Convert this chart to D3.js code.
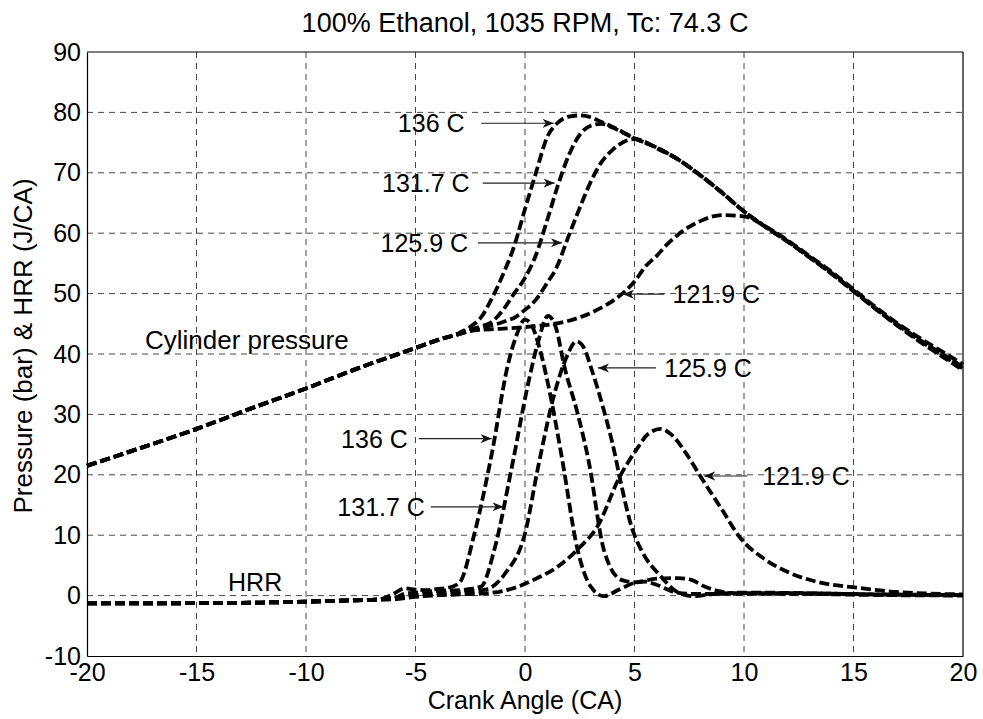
<!DOCTYPE html>
<html>
<head>
<meta charset="utf-8">
<script src="https://cdn.jsdelivr.net/npm/d3@7"></script>
<style>
  body { margin: 0; background: #fff; }
  svg text { font-family: "Liberation Sans", Arial, sans-serif; fill: #000; }
</style>
</head>
<body>
<div id="chart"></div>
<script>
// cylinder pressure (bar) vs crank angle, one pair of arrays per intake temperature
const crankP136 = [-20, -17.5, -15, -12.5, -10, -7.5, -5, -4, -3, -2.5, -2, -1.5, -1, -0.5, 0, 0.5, 1, 1.5, 2, 2.5, 3, 3.5, 4, 4.5, 5, 6, 7, 8, 9, 10, 11, 12, 13, 14, 15, 16, 17, 18, 19, 20];
const pres136 = [21.5, 24.5, 27.6, 31, 34.3, 37.8, 41, 42.3, 43.5, 44.5, 46.1, 49.3, 53.2, 57.8, 64, 70, 75.8, 78.3, 79.3, 79.5, 79.2, 78.4, 77.6, 76.7, 75.7, 74.2, 72.2, 69.6, 66.7, 63.6, 61, 58.6, 56, 53.3, 50.4, 47.5, 44.7, 42.1, 39.7, 37.3];

const crankP131 = [-20, -17.5, -15, -12.5, -10, -7.5, -5, -4, -3, -2.5, -2, -1.6, -1, -0.5, 0, 0.5, 1, 1.5, 2, 2.5, 3, 3.5, 4, 4.5, 5, 6, 7, 8, 9, 10, 11, 12, 13, 14, 15, 16, 17, 18, 19, 20];
const pres131 = [21.5, 24.5, 27.6, 31, 34.3, 37.8, 41, 42.3, 43.4, 44, 44.6, 45.1, 47.3, 50, 52.6, 56.4, 62, 67.9, 72.9, 76.3, 77.8, 78.1, 77.5, 76.6, 75.7, 74.2, 72.2, 69.6, 66.7, 63.6, 61, 58.6, 56, 53.3, 50.4, 47.5, 44.8, 42.3, 39.9, 37.6];

const crankP125 = [-20, -17.5, -15, -12.5, -10, -7.5, -5, -4, -3, -2, -1, -0.4, 0, 0.5, 1, 1.4, 2, 2.6, 3, 3.5, 4, 4.5, 5, 5.5, 6, 7, 8, 9, 10, 11, 12, 13, 14, 15, 16, 17, 18, 19, 20];
const pres125 = [21.5, 24.5, 27.6, 31, 34.3, 37.8, 41, 42.3, 43.3, 44.3, 45.3, 46.2, 47.3, 49, 51.7, 54, 59.6, 65.1, 68.5, 71.8, 73.8, 75.1, 75.6, 75.1, 74.1, 72.2, 69.6, 66.7, 63.6, 61, 58.6, 56, 53.4, 50.5, 47.6, 44.9, 42.4, 40.1, 37.9];

const crankP121 = [-20, -17.5, -15, -12.5, -10, -7.5, -5, -4, -3, -2.6, -1, 0.4, 1.9, 3.4, 4.2, 5, 5.5, 6, 6.5, 7, 8, 9, 10, 11, 12, 13, 14, 15, 16, 17, 18, 19, 20];
const pres121 = [21.5, 24.5, 27.6, 31, 34.3, 37.8, 41, 42.3, 43.3, 43.8, 44.2, 44.6, 45.4, 47.5, 49.3, 52, 54.5, 56.2, 58.2, 59.8, 62, 63, 62.8, 61.1, 58.8, 56.2, 53.6, 50.7, 47.8, 45.1, 42.7, 40.5, 38.3];

// heat release rate (J/CA) vs crank angle
const crankH136 = [-20, -15, -12, -10, -8, -7, -6.5, -6, -5.5, -5, -4.5, -4, -3.5, -3, -2.3, -1.5, -0.8, -0.4, 0, 0.3, 0.6, 1.2, 1.7, 2.4, 3, 3.6, 4.3, 5, 5.5, 6, 6.8, 7.5, 9, 12, 16, 20];
const hrr136 = [-1.3, -1.25, -1.15, -1.0, -0.8, -0.7, -0.5, 0.3, 1.2, 1.0, 0.9, 1.1, 1.3, 2.1, 10.4, 23.8, 37.9, 43, 45.7, 44.8, 41.8, 32.4, 22.5, 7.6, 1.5, -0.1, 1.0, 2.1, 2.3, 1.8, 0.6, 0.3, 0.3, 0.3, 0.1, 0];

const crankH131 = [-20, -15, -12, -10, -8, -7, -6, -5.5, -5, -4, -3, -2.5, -2, -1.4, -0.6, 0.15, 0.6, 1.05, 1.4, 1.8, 2.4, 2.9, 3.6, 4.4, 5, 6, 7, 7.6, 8.2, 8.8, 9.5, 12, 16, 20];
const hrr131 = [-1.3, -1.25, -1.15, -1.0, -0.8, -0.7, -0.4, 0.3, 0.5, 0.8, 0.9, 1.1, 1.5, 7.6, 21.3, 35.2, 42, 46.3, 44.5, 37.9, 30.2, 22.4, 7.6, 2.6, 2.2, 2.8, 2.9, 2.6, 1.5, 0.8, 0.4, 0.4, 0.2, 0.1];

const crankH125 = [-20, -15, -12, -10, -8, -7, -6, -5, -4, -3, -1.8, -0.9, 0, 0.6, 1.35, 1.9, 2.35, 2.7, 3, 3.6, 4.1, 4.3, 4.9, 5.3, 6.2, 7, 7.7, 8.5, 10, 13, 16, 20];
const hrr125 = [-1.3, -1.25, -1.15, -1.0, -0.8, -0.7, -0.5, 0, 0.4, 0.6, 1.0, 3.7, 10.3, 21.3, 33.5, 39.5, 42.1, 41, 37.9, 30.7, 23.5, 20, 11, 7.6, 3.2, 0.5, -0.1, 0.2, 0.5, 0.4, 0.2, 0.1];

const crankH121 = [-20, -15, -12, -10, -8, -7, -6, -5, -3, -1.7, -0.3, 0.5, 1.5, 2.5, 3.3, 4.3, 5.15, 5.6, 6.2, 6.7, 7.4, 8, 9, 9.8, 11, 12, 13.3, 15.2, 17, 20];
const hrr121 = [-1.3, -1.25, -1.15, -1.0, -0.8, -0.7, -0.6, -0.2, 0.2, 0.4, 1.5, 2.8, 4.8, 8, 11.4, 19.5, 24.5, 26.7, 27.6, 26.6, 23.3, 19.8, 14.2, 9.7, 5.9, 3.9, 2.3, 1.3, 0.6, 0.2];

// tick values
const xTicks = [-20, -15, -10, -5, 0, 5, 10, 15, 20];
const yTicks = [-10, 0, 10, 20, 30, 40, 50, 60, 70, 80, 90];

// annotations: label text, text x/y, arrow from/to (data units)
const labelText = ['136 C', '131.7 C', '125.9 C', '121.9 C', '125.9 C', '136 C', '131.7 C', '121.9 C'];
const labelX = [-2.76, -2.53, -2.6, 6.74, 6.36, -5.35, -4.57, 10.83];
const labelY = [78.2, 68.3, 58.4, 49.9, 37.7, 26, 14.7, 19.8];
const arrowFrom = [-2.0, -1.93, -2.15, 6.36, 5.98, -4.85, -4.3, 10.15];
const arrowTo = [1.31, 1.35, 1.69, 4.47, 3.33, -1.52, -0.98, 8.18];

const series = [
  [crankP136, pres136], [crankP131, pres131], [crankP125, pres125], [crankP121, pres121],
  [crankH136, hrr136], [crankH131, hrr131], [crankH125, hrr125], [crankH121, hrr121]
].map(([xs, ys]) => xs.map((x, i) => ({ x: x, y: ys[i] })));

let margin = { top: 52, right: 20, bottom: 63, left: 87 },
  width = 983 - margin.left - margin.right,
  height = 719 - margin.top - margin.bottom;

let svg = d3.select('#chart')
  .append('svg')
  .attr('width', 983)
  .attr('height', 719)
  .append('g')
  .attr('transform', `translate(${margin.left}, ${margin.top})`);

let x = d3.scaleLinear().domain([-20, 20]).range([0, width]);
let y = d3.scaleLinear().domain([-10, 90]).range([height, 0]);

// grid
svg.append('g')
  .selectAll('line')
  .data(xTicks.slice(1, -1))
  .enter()
  .append('line')
  .attr('x1', d => x(d)).attr('x2', d => x(d))
  .attr('y1', 0).attr('y2', height)
  .attr('stroke', '#333').attr('stroke-width', 0.9)
  .attr('stroke-dasharray', '6,5');

svg.append('g')
  .selectAll('line')
  .data(yTicks.slice(1, -1))
  .enter()
  .append('line')
  .attr('y1', d => y(d)).attr('y2', d => y(d))
  .attr('x1', 0).attr('x2', width)
  .attr('stroke', '#333').attr('stroke-width', 0.9)
  .attr('stroke-dasharray', '6,5');

// axes (plain hyphen for negatives, like the original)
let xAxis = svg.append('g')
  .attr('transform', `translate(0,${height})`)
  .call(d3.axisBottom(x).tickValues(xTicks).tickSize(0).tickPadding(7).tickFormat(d => String(d)));
let yAxis = svg.append('g')
  .call(d3.axisLeft(y).tickValues(yTicks).tickSize(0).tickPadding(6).tickFormat(d => String(d)));

[xAxis, yAxis].forEach(a => {
  a.select('.domain').attr('stroke', '#000').attr('stroke-width', 1.2);
  a.selectAll('text')
    .style('font-family', '"Liberation Sans", Arial, sans-serif')
    .style('font-size', '25px');
});

svg.append('line')
  .attr('x1', 0).attr('x2', width).attr('y1', 0).attr('y2', 0)
  .attr('stroke', '#000').attr('stroke-width', 1.2);
svg.append('line')
  .attr('x1', width).attr('x2', width).attr('y1', 0).attr('y2', height)
  .attr('stroke', '#000').attr('stroke-width', 1.2);

// curves
let line = d3.line()
  .x(d => x(d.x))
  .y(d => y(d.y))
  .curve(d3.curveMonotoneX);

svg.append('g')
  .selectAll('path')
  .data(series)
  .enter()
  .append('path')
  .attr('d', line)
  .attr('fill', 'none')
  .attr('stroke', '#000')
  .attr('stroke-width', 3.8)
  .attr('stroke-dasharray', '10,4');

// arrow head
svg.append('defs')
  .append('marker')
  .attr('id', 'head')
  .attr('viewBox', '-11 -5 12 10')
  .attr('refX', 0).attr('refY', 0)
  .attr('markerWidth', 12).attr('markerHeight', 10)
  .attr('markerUnits', 'userSpaceOnUse')
  .attr('orient', 'auto')
  .append('path')
  .attr('d', 'M-11,-4.5 L0,0 L-11,4.5 L-8,0 Z')
  .attr('fill', '#111');

let ann = svg.append('g')
  .selectAll('g')
  .data(labelText.map((t, i) => ({ t: t, tx: labelX[i], ty: labelY[i], a0: arrowFrom[i], a1: arrowTo[i] })))
  .enter()
  .append('g');

ann.append('line')
  .attr('x1', d => x(d.a0)).attr('x2', d => x(d.a1))
  .attr('y1', d => y(d.ty)).attr('y2', d => y(d.ty))
  .attr('stroke', '#222').attr('stroke-width', 1.2)
  .attr('marker-end', 'url(#head)');

ann.append('text')
  .text(d => d.t)
  .attr('x', d => x(d.tx))
  .attr('y', d => y(d.ty))
  .attr('dy', '0.36em')
  .attr('text-anchor', d => d.a1 > d.tx ? 'end' : 'start')
  .style('font-size', '25px');

svg.append('text')
  .text('Cylinder pressure')
  .attr('x', x(-8.05))
  .attr('y', y(42.3))
  .attr('dy', '0.36em')
  .attr('text-anchor', 'end')
  .style('font-size', '26px');

svg.append('text')
  .text('HRR')
  .attr('x', x(-13.56))
  .attr('y', y(2.25))
  .attr('dy', '0.36em')
  .style('font-size', '25px');

// titles
svg.append('text')
  .text('100% Ethanol, 1035 RPM, Tc: 74.3 C')
  .attr('x', width / 2)
  .attr('y', -20)
  .attr('text-anchor', 'middle')
  .style('font-size', '27px');

svg.append('text')
  .text('Crank Angle (CA)')
  .attr('x', width / 2)
  .attr('y', height + 53)
  .attr('text-anchor', 'middle')
  .style('font-size', '25px');

svg.append('text')
  .text('Pressure (bar) & HRR (J/CA)')
  .attr('transform', `translate(${-55},${height / 2 - 8}) rotate(-90)`)
  .attr('text-anchor', 'middle')
  .style('font-size', '26px');
</script>
</body>
</html>
